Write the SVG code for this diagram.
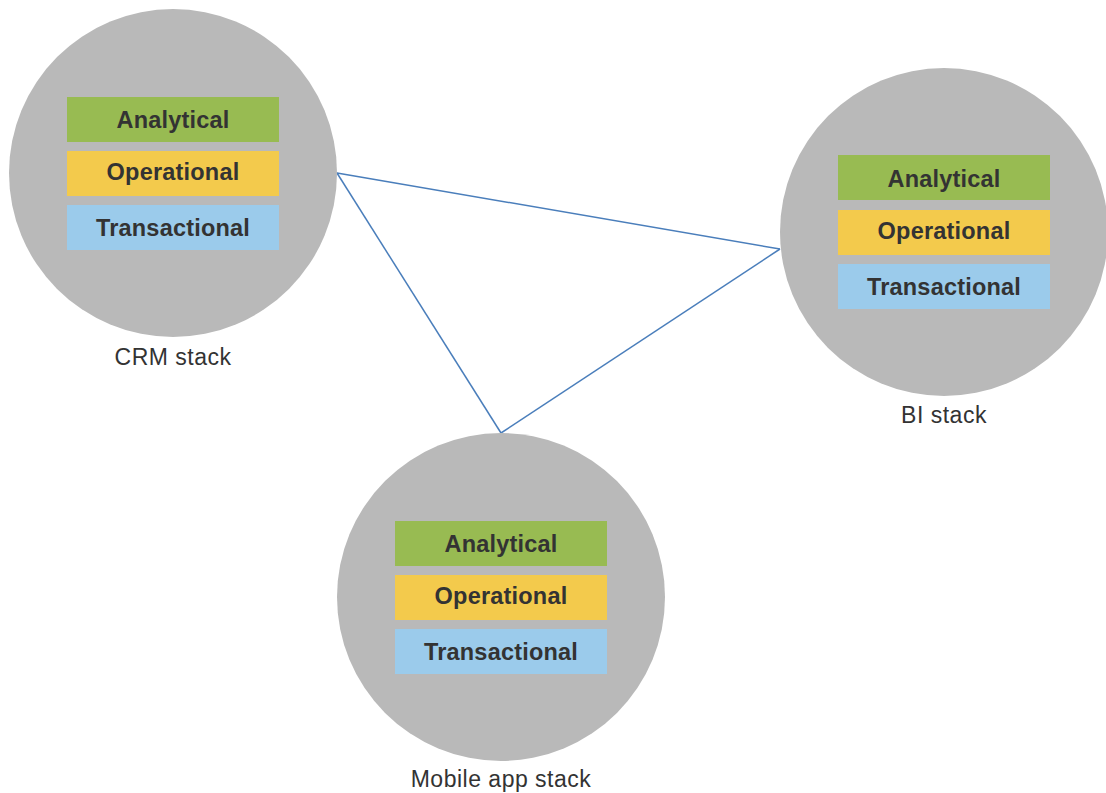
<svg xmlns="http://www.w3.org/2000/svg" width="1106" height="793" viewBox="0 0 1106 793">
  <style>
    .disc { fill: #b9b9b9; }
    .analytical { fill: #98bb52; }
    .operational { fill: #f3ca4c; }
    .transactional { fill: #9bcbeb; }
    .layer { font-family: "Liberation Sans", Arial, sans-serif; font-weight: bold; font-size: 23.5px; fill: #333333; text-anchor: middle; letter-spacing: 0.2px; }
    .caption { font-family: "Liberation Sans", Arial, sans-serif; font-size: 23px; fill: #333333; text-anchor: middle; letter-spacing: 0.5px; }
    .link { stroke: #4a7ebb; stroke-width: 1.5; fill: none; }
  </style>
  <rect width="1106" height="793" fill="#ffffff"/>

  <!-- links between stacks -->
  <g id="connectors">
    <line class="link" x1="337" y1="173" x2="780" y2="249"/>
    <line class="link" x1="337" y1="173" x2="501" y2="433"/>
    <line class="link" x1="501" y1="433" x2="780" y2="249"/>
  </g>

  <!-- CRM stack -->
  <g id="crm-stack">
    <circle class="disc" cx="173" cy="173" r="164"/>
    <rect class="analytical" x="67" y="97" width="212" height="45"/>
    <rect class="operational" x="67" y="151" width="212" height="45"/>
    <rect class="transactional" x="67" y="205" width="212" height="45"/>
    <text class="layer" x="173" y="128">Analytical</text>
    <text class="layer" x="173" y="180">Operational</text>
    <text class="layer" x="173" y="236">Transactional</text>
    <text class="caption" x="173" y="365">CRM stack</text>
  </g>

  <!-- BI stack -->
  <g id="bi-stack">
    <circle class="disc" cx="944" cy="232" r="164"/>
    <rect class="analytical" x="838" y="155" width="212" height="45"/>
    <rect class="operational" x="838" y="210" width="212" height="45"/>
    <rect class="transactional" x="838" y="264" width="212" height="45"/>
    <text class="layer" x="944" y="187">Analytical</text>
    <text class="layer" x="944" y="239">Operational</text>
    <text class="layer" x="944" y="295">Transactional</text>
    <text class="caption" x="944" y="423">BI stack</text>
  </g>

  <!-- Mobile app stack -->
  <g id="mobile-stack">
    <circle class="disc" cx="501" cy="597" r="164"/>
    <rect class="analytical" x="395" y="521" width="212" height="45"/>
    <rect class="operational" x="395" y="575" width="212" height="45"/>
    <rect class="transactional" x="395" y="629" width="212" height="45"/>
    <text class="layer" x="501" y="552">Analytical</text>
    <text class="layer" x="501" y="604">Operational</text>
    <text class="layer" x="501" y="660">Transactional</text>
    <text class="caption" x="501" y="787">Mobile app stack</text>
  </g>
</svg>
